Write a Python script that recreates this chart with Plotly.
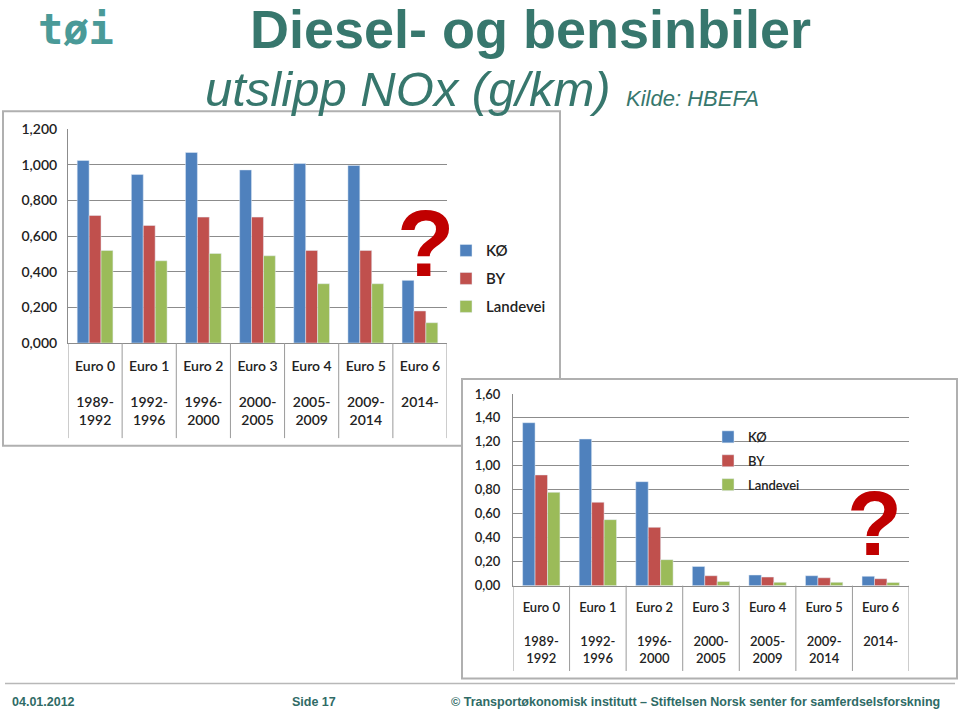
import plotly.graph_objects as go

W, H = 960, 713

categories = ["Euro 0", "Euro 1", "Euro 2", "Euro 3", "Euro 4", "Euro 5", "Euro 6"]
periods = ["1989-<br>1992", "1992-<br>1996", "1996-<br>2000", "2000-<br>2005",
           "2005-<br>2009", "2009-<br>2014", "2014-<br> "]
series_names = ["KØ", "BY", "Landevei"]

# Chart 1 (top-left)
c1_ko = [1.025, 0.946, 1.070, 0.972, 1.008, 0.997, 0.352]
c1_by = [0.716, 0.660, 0.707, 0.707, 0.520, 0.520, 0.180]
c1_land = [0.520, 0.462, 0.503, 0.490, 0.333, 0.333, 0.114]

# Chart 2 (bottom-right)
c2_ko = [1.36, 1.224, 0.868, 0.160, 0.089, 0.083, 0.078]
c2_by = [0.924, 0.696, 0.487, 0.083, 0.072, 0.066, 0.058]
c2_land = [0.779, 0.551, 0.217, 0.035, 0.028, 0.028, 0.027]

colors = ["#4F81BD", "#C0504D", "#9BBB59"]
TEAL = "#37776d"
CHART_FONT = "Lato"


def px(x):
    return x / W


def py(y):
    # vertical mapping calibrated against the rendered page
    return 1 - (y - 7.5) / 697.0


labels = [f"{c}<br><br>{p}" for c, p in zip(categories, periods)]
idx = list(range(len(categories)))

fig = go.Figure()

for vals, name, col in zip([c1_ko, c1_by, c1_land], series_names, colors):
    fig.add_trace(go.Bar(x=idx, y=vals, name=name, marker_color=col,
                         legendgroup="c1" + name,
                         xaxis="x", yaxis="y", legend="legend"))
for vals, name, col in zip([c2_ko, c2_by, c2_land], series_names, colors):
    fig.add_trace(go.Bar(x=idx, y=vals, name=name, marker_color=col,
                         legendgroup="c2" + name,
                         xaxis="x2", yaxis="y2", legend="legend2"))

tf1 = dict(family=CHART_FONT, size=14, color="#222", weight=600)
tf2 = dict(family=CHART_FONT, size=13, color="#222", weight=600)

fig.update_layout(
    width=W, height=H, margin=dict(l=0, r=0, t=0, b=0),
    paper_bgcolor="white", plot_bgcolor="rgba(0,0,0,0)",
    separators=",.",
    barmode="group", bargap=0.34, bargroupgap=0,
    xaxis=dict(domain=[px(68), px(447)], anchor="y", range=[-0.5, 6.5],
               tickmode="array", tickvals=idx, ticktext=labels,
               showgrid=False, zeroline=False, showline=True, linecolor="#8c8c8c",
               ticks="", ticklabelstandoff=10, tickfont=tf1),
    yaxis=dict(domain=[py(342), py(128)], anchor="x", range=[0, 1.2], dtick=0.2,
               tickformat=".3f", showgrid=True, gridcolor="#8c8c8c", gridwidth=1,
               showline=True, linecolor="#8c8c8c", zeroline=False, ticks="",
               ticklabelstandoff=7, tickfont=tf1),
    xaxis2=dict(domain=[px(513), px(909)], anchor="y2", range=[-0.5, 6.5],
                tickmode="array", tickvals=idx, ticktext=labels,
                showgrid=False, zeroline=False, showline=True, linecolor="#8c8c8c",
                ticks="", ticklabelstandoff=10, tickfont=tf2),
    yaxis2=dict(domain=[py(585), py(393)], anchor="x2", range=[0, 1.6], dtick=0.2,
                tickformat=".2f", showgrid=True, gridcolor="#8c8c8c", gridwidth=1,
                showline=True, linecolor="#8c8c8c", zeroline=False, ticks="",
                ticklabelstandoff=9, tickfont=tf2),
    legend=dict(x=px(446), y=py(233), xanchor="left", yanchor="top",
                bgcolor="rgba(0,0,0,0)", tracegroupgap=5.5,
                font=dict(family=CHART_FONT, size=15, color="#222", weight=600)),
    legend2=dict(x=px(708), y=py(421), xanchor="left", yanchor="top",
                 bgcolor="rgba(0,0,0,0)", tracegroupgap=4,
                 font=dict(family=CHART_FONT, size=13, color="#222", weight=600)),
    showlegend=True,
)

shapes = []
# chart frames
shapes.append(dict(type="rect", xref="paper", yref="paper", x0=px(3), x1=px(560),
                   y0=py(445), y1=py(110), line=dict(color="#b0b0b0", width=2),
                   fillcolor="white", layer="below"))
shapes.append(dict(type="rect", xref="paper", yref="paper", x0=px(462), x1=px(957),
                   y0=py(678), y1=py(378), line=dict(color="#b0b0b0", width=2),
                   fillcolor="white", layer="below"))
# category separator lines in label area
for i in range(len(categories) + 1):
    shapes.append(dict(type="line", xref="x", yref="y domain", x0=i - 0.5, x1=i - 0.5,
                       y0=0, y1=-0.445, line=dict(color="#9a9a9a", width=1)))
    shapes.append(dict(type="line", xref="x2", yref="y2 domain", x0=i - 0.5, x1=i - 0.5,
                       y0=0, y1=-0.445, line=dict(color="#9a9a9a", width=1)))
# footer rule
shapes.append(dict(type="line", xref="paper", yref="paper", x0=px(5), x1=px(955),
                   y0=py(683), y1=py(683), line=dict(color="#b8b8b8", width=1.5)))
fig.update_layout(shapes=shapes)

ann = []
ann.append(dict(text="<b>Diesel- og bensinbiler</b>", x=px(530), y=py(28), xref="paper",
                yref="paper", showarrow=False, xanchor="center", yanchor="middle",
                font=dict(family="Liberation Sans", size=54, color=TEAL)))
ann.append(dict(text="<i>utslipp NOx (g/km)</i>", x=px(203), y=py(88), xref="paper",
                yref="paper", showarrow=False, xanchor="left", yanchor="middle",
                font=dict(family="Liberation Sans", size=49, color=TEAL)))
ann.append(dict(text="<i>Kilde: HBEFA</i>", x=px(624), y=py(97), xref="paper",
                yref="paper", showarrow=False, xanchor="left", yanchor="middle",
                font=dict(family="Liberation Sans", size=22, color=TEAL)))
ann.append(dict(text="<b>tøi</b>", x=px(36), y=py(28), xref="paper", yref="paper",
                showarrow=False, xanchor="left", yanchor="middle",
                font=dict(family="DejaVu Sans Mono", size=42, color="#4a9a98")))
ann.append(dict(text="<b>?</b>", x=px(425), y=py(242), xref="paper", yref="paper",
                showarrow=False, xanchor="center", yanchor="middle",
                font=dict(family="Liberation Sans", size=94, color="#c00000")))
ann.append(dict(text="<b>?</b>", x=px(874), y=py(523), xref="paper", yref="paper",
                showarrow=False, xanchor="center", yanchor="middle",
                font=dict(family="Liberation Sans", size=90, color="#c00000")))
footer_font = dict(family="Liberation Sans", size=12.5, color="#2f6b66")
ann.append(dict(text="<b>04.01.2012</b>", x=px(10), y=py(701), xref="paper", yref="paper",
                showarrow=False, xanchor="left", yanchor="middle", font=footer_font))
ann.append(dict(text="<b>Side 17</b>", x=px(290), y=py(701), xref="paper", yref="paper",
                showarrow=False, xanchor="left", yanchor="middle", font=footer_font))
ann.append(dict(text="<b>© Transportøkonomisk institutt – Stiftelsen Norsk senter for samferdselsforskning</b>",
                x=px(942), y=py(701), xref="paper", yref="paper", showarrow=False,
                xanchor="right", yanchor="middle", font=footer_font))
fig.update_layout(annotations=ann)

fig.write_html("out.html")
